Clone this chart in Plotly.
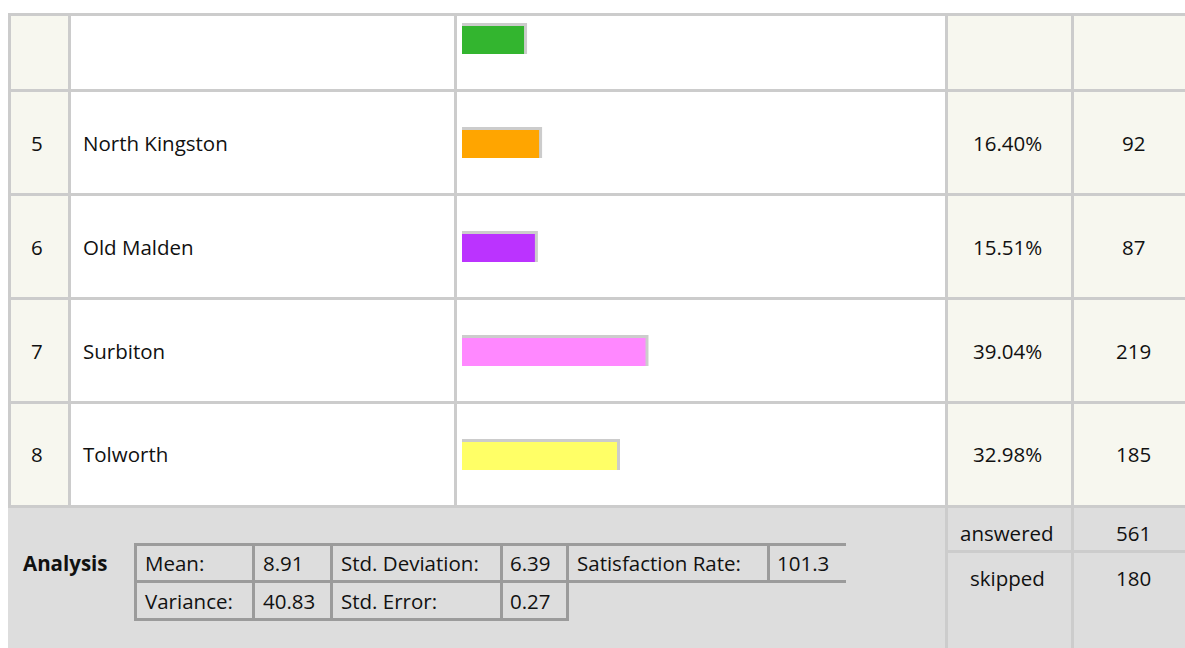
import plotly.graph_objects as go

# ---------------- data ----------------
row_index = ["", "5", "6", "7", "8"]
row_labels = ["", "North Kingston", "Old Malden", "Surbiton", "Tolworth"]
row_pct = [13.2, 16.40, 15.51, 39.04, 32.98]
row_counts = [None, 92, 87, 219, 185]
bar_colors = ["#33b52f", "#ffa500", "#bb33ff", "#ff88ff", "#ffff66"]

answered = 561
skipped = 180

stats_row1 = [("Mean:", "8.91"), ("Std. Deviation:", "6.39"), ("Satisfaction Rate:", "101.3")]
stats_row2 = [("Variance:", "40.83"), ("Std. Error:", "0.27")]

# ---------------- layout constants (pixels) ----------------
W, H = 1185, 648
GRID = "#cccccc"
CREAM = "#f7f7ef"
FOOT = "#dddddd"
INNER = "#9b9b9b"
TXT = "#111111"
FONT = "Open Sans"
FS = 20.5

COL_LINES = [8, 68, 454, 945, 1071]
ROW_LINES = [13, 89, 193, 297, 401, 505]
LW = 3
ROW_H = 104
PX_PER_PCT = 4.7
BAR_X0 = 462
BAR_H = 28
SHADOW = 3


def px(x):
    return x / W


def py(y):
    return 1 - y / H


shapes = []


def rect(x0, y0, x1, y1, color):
    shapes.append(dict(type="rect", xref="paper", yref="paper",
                       x0=px(x0), x1=px(x1), y0=py(y1), y1=py(y0),
                       fillcolor=color, line_width=0, layer="below"))


annotations = []


def text(x, y, s, anchor="left", bold=False, size=FS):
    if bold:
        s = "<b>" + s + "</b>"
    annotations.append(dict(x=px(x), y=py(y), xref="paper", yref="paper",
                            text=s, showarrow=False, xanchor=anchor, yanchor="middle",
                            borderpad=0, borderwidth=0,
                            font=dict(family=FONT, size=size, color=TXT)))


# table body backgrounds
body_top = ROW_LINES[0] + LW
body_bot = ROW_LINES[-1]
rect(COL_LINES[0] + LW, body_top, COL_LINES[1], body_bot, CREAM)
rect(COL_LINES[3] + LW, body_top, W, body_bot, CREAM)

# grid
for y in ROW_LINES:
    rect(COL_LINES[0], y, W, y + LW, GRID)
for x in COL_LINES:
    rect(x, ROW_LINES[0], x + LW, ROW_LINES[-1], GRID)

# footer
foot_top = ROW_LINES[-1] + LW
rect(COL_LINES[0], foot_top, W, H, FOOT)
rect(COL_LINES[3], foot_top, COL_LINES[3] + LW, H, GRID)
rect(COL_LINES[4], foot_top, COL_LINES[4] + LW, H, GRID)
rect(COL_LINES[3] + LW, 550, W, 553, GRID)

# rows text
pct_cx = 1007
cnt_cx = 1133
bar_centers = []
for k in range(len(row_labels)):
    top = ROW_LINES[k + 1] - ROW_H + LW
    bot = ROW_LINES[k + 1]
    cy = (top + bot) / 2
    bar_centers.append(ROW_LINES[k + 1] - 63 + BAR_H / 2)
    if row_counts[k] is None:
        continue
    text(31, cy, row_index[k])
    text(83, cy, row_labels[k])
    text(pct_cx, cy, f"{row_pct[k]:.2f}%", anchor="center")
    text(cnt_cx, cy, str(row_counts[k]), anchor="center")

# footer texts
text(1007, 533, "answered", anchor="center")
text(cnt_cx, 533, str(answered), anchor="center")
text(1007, 578, "skipped", anchor="center")
text(cnt_cx, 578, str(skipped), anchor="center")

# analysis inner table
text(23, 563, "Analysis", bold=True)
IT = 543
IM = 580
IB = 618
rect(134, IT, 846, IT + LW, INNER)
rect(134, IM, 846, IM + LW, INNER)
rect(134, IB, 569, IB + LW, INNER)
for x in [134, 252, 330, 500, 566]:
    rect(x, IT, x + LW, IB + LW, INNER)
rect(767, IT, 770, IM + LW, INNER)

cell_x = [145, 263, 341, 510, 577, 777]
r1y = (IT + LW + IM) / 2
r2y = (IM + LW + IB) / 2
for i, (lab, val) in enumerate(stats_row1):
    text(cell_x[2 * i], r1y, lab)
    text(cell_x[2 * i + 1], r1y, val)
for i, (lab, val) in enumerate(stats_row2):
    text(cell_x[2 * i], r2y, lab)
    text(cell_x[2 * i + 1], r2y, val)

# ---------------- bars ----------------
fig = go.Figure()
fig.add_trace(go.Bar(
    x=[v + SHADOW / PX_PER_PCT for v in row_pct],
    y=[c - SHADOW / 2 for c in bar_centers],
    width=[BAR_H + SHADOW] * len(row_pct),
    base=0, orientation="h",
    marker=dict(color=GRID, line=dict(width=0)),
    hoverinfo="skip", showlegend=False,
))
fig.add_trace(go.Bar(
    x=row_pct, y=bar_centers,
    width=[BAR_H] * len(row_pct),
    base=0, orientation="h",
    marker=dict(color=bar_colors, line=dict(width=0)),
    hovertemplate="%{x:.2f}%<extra></extra>", showlegend=False,
))

bar_x1 = COL_LINES[3]
fig.update_layout(
    width=W, height=H,
    margin=dict(l=0, r=0, t=0, b=0),
    paper_bgcolor="white", plot_bgcolor="rgba(0,0,0,0)",
    barmode="overlay",
    xaxis=dict(domain=[px(BAR_X0), px(bar_x1)], range=[0, (bar_x1 - BAR_X0) / PX_PER_PCT],
               visible=False, fixedrange=True),
    yaxis=dict(domain=[0, 1], range=[H, 0], visible=False, fixedrange=True),
    shapes=shapes, annotations=annotations,
    font=dict(family=FONT, color=TXT),
)

fig.write_html(
    "out.html",
    config={"displayModeBar": False},
    post_script="document.documentElement.style.margin='0';document.body.style.margin='0';"
                "document.body.style.overflow='hidden';document.documentElement.style.overflow='hidden';",
)
